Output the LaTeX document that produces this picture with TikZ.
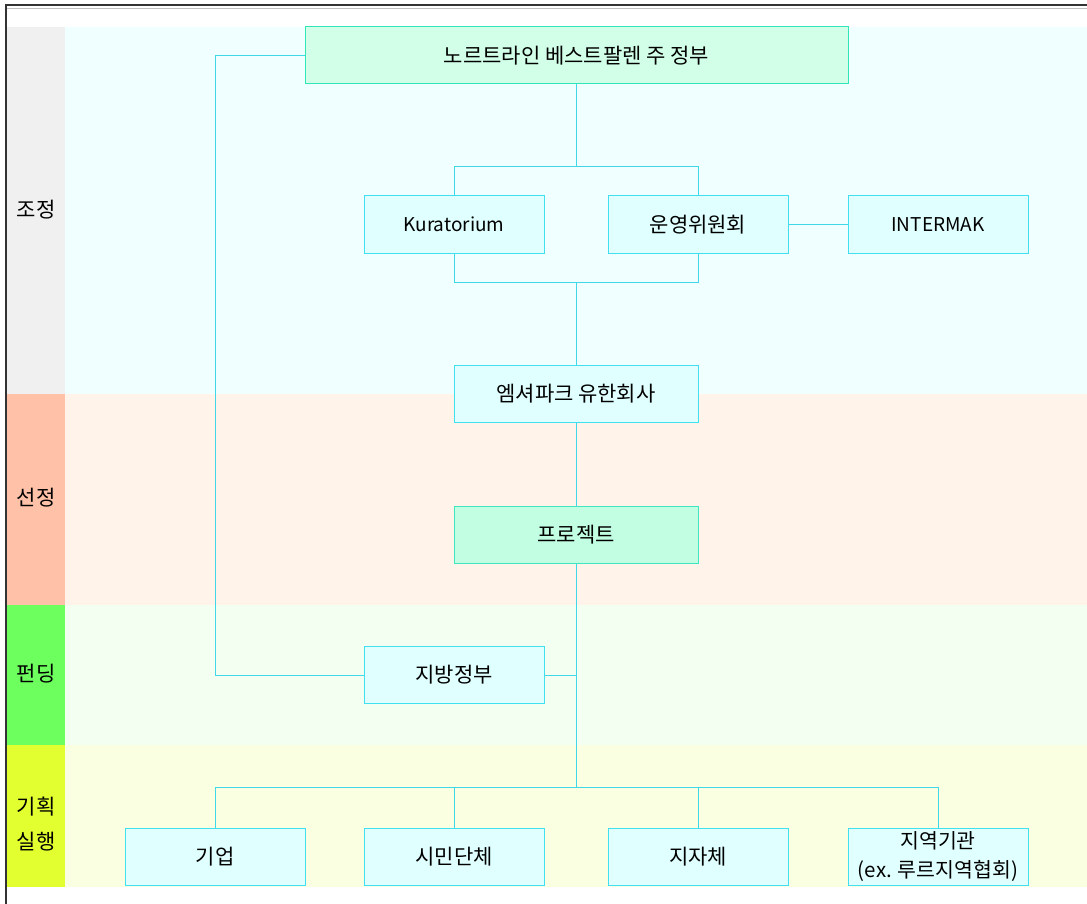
\documentclass[tikz,border=0pt]{standalone}
\usepackage{fontspec}
\setmainfont{Noto Sans CJK KR}
\usepackage{tikz}
\usetikzlibrary{calc}

\definecolor{linecyan}{HTML}{40D8E8}
\definecolor{boxfill}{HTML}{E0FFFF}
\definecolor{boxline}{HTML}{40E0F0}
\definecolor{govfill}{HTML}{D2FFE8}
\definecolor{govline}{HTML}{30E6B8}
\definecolor{projfill}{HTML}{C2FFE2}
\definecolor{projline}{HTML}{40E6C0}
\definecolor{coordlab}{HTML}{F0F0F0}
\definecolor{coordbg}{HTML}{F0FFFF}
\definecolor{selectlab}{HTML}{FFC2A8}
\definecolor{selectbg}{HTML}{FFF3EA}
\definecolor{fundlab}{HTML}{6CFF5E}
\definecolor{fundbg}{HTML}{F3FFF0}
\definecolor{planlab}{HTML}{E2FF30}
\definecolor{planbg}{HTML}{FAFFE2}

\begin{document}
\begin{tikzpicture}[x=1pt,y=-1pt,
  box/.style={draw=boxline,fill=boxfill,line width=1pt,minimum width=180pt,minimum height=57pt,inner sep=0pt,font=\fontsize{21}{25}\selectfont},
  latinbox/.style={box,font=\fontsize{19}{23}\selectfont},
  govbox/.style={box,draw=govline,fill=govfill,minimum width=543pt},
  projbox/.style={box,draw=projline,fill=projfill,minimum width=244pt},
  conn/.style={draw=linecyan,line width=1pt},
  lab/.style={font=\fontsize{21}{35}\selectfont,align=center}]
\useasboundingbox (0,0) rectangle (1087,904);
\fill[white] (0,0) rectangle (1087,904);
% bands
\fill[coordbg] (65,27) rectangle (1087,394);
\fill[coordlab] (7,27) rectangle (65,394);
\fill[selectbg] (65,394) rectangle (1087,605);
\fill[selectlab] (7,394) rectangle (65,605);
\fill[fundbg] (65,605) rectangle (1087,745);
\fill[fundlab] (7,605) rectangle (65,745);
\fill[planbg] (65,745) rectangle (1087,887);
\fill[planlab] (7,745) rectangle (65,887);
\draw[black!80,line width=1.5pt] (6,904) -- (6,5) -- (1087,5);
\draw[black!25] (7,8.5) -- (1087,8.5);
\node[lab] (l1) at (36,210) {조정};
\node[lab] (l2) at (36,498) {선정};
\node[lab] (l3) at (36,674) {펀딩};
\node[lab] (l4) at (36,824) {기획\\실행};
% boxes
\node[govbox] (nrw) at (576.5,55.5) {노르트라인 베스트팔렌 주 정부};
\node[latinbox] (kura) at (454,224.5) {Kuratorium};
\node[box] (board) at (698,224.5) {운영위원회};
\node[latinbox] (inter) at (938,224.5) {INTERMAK};
\node[box,minimum width=244pt] (emscher) at (576,393.5) {엠셔파크 유한회사};
\node[projbox] (proj) at (576,534.5) {프로젝트};
\node[box] (local) at (454,675) {지방정부};
\node[box] (firm) at (215,857) {기업};
\node[box] (civic) at (454,857) {시민단체};
\node[box] (muni) at (698,857) {지자체};
\node[box,align=center,font=\fontsize{20.5}{29}\selectfont] (region) at (938,857) {지역기관\\(ex. 루르지역협회)};
% connectors
\coordinate (rail) at (215.5,55.5);
\draw[conn] (nrw.south) -- ++(0,83);
\draw[conn] (kura.north) -- ++(0,-29) -| (board.north);
\draw[conn] (kura.south) -- ++(0,29) -| (board.south);
\draw[conn] (emscher.north) -- ++(0,-83);
\draw[conn] (board.east) -- (inter.west);
\draw[conn] (emscher.south) -- (proj.north);
\draw[conn] (proj.south) -- ++(0,224);
\draw[conn] (local.east) -- (local.east -| proj.south);
\draw[conn] (nrw.west) -- (rail) |- (local.west);
\draw[conn] (firm.north) -- ++(0,-41) -| (region.north);
\draw[conn] (civic.north) -- ++(0,-41);
\draw[conn] (muni.north) -- ++(0,-41);
\end{tikzpicture}
\end{document}
